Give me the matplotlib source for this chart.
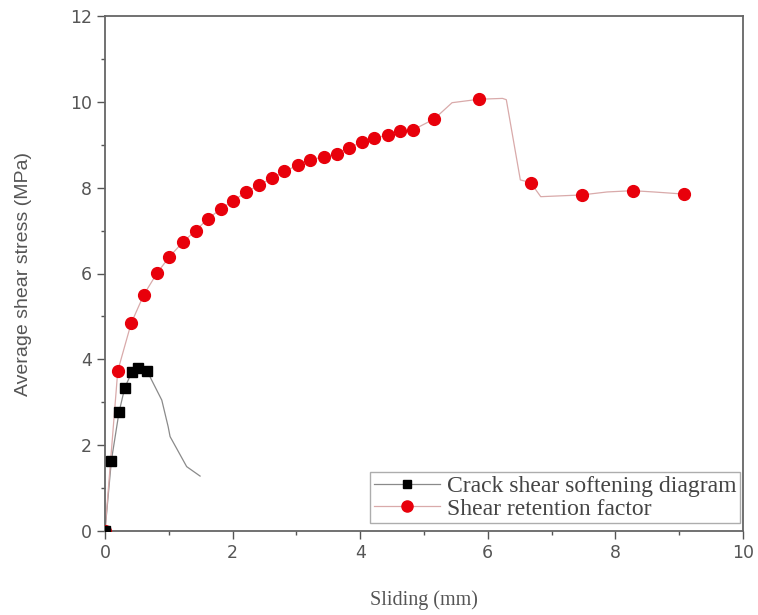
import numpy as np
import matplotlib.pyplot as plt
from matplotlib.ticker import MultipleLocator

# crack shear softening diagram (black squares + thin line)
crack_x = [0.0, 0.10, 0.22, 0.31, 0.42, 0.52, 0.66]
crack_y = [0.0, 1.64, 2.77, 3.34, 3.70, 3.79, 3.73]
crack_line_x = [0.0, 0.10, 0.22, 0.31, 0.42, 0.52, 0.66, 0.73, 0.89, 0.99, 1.02, 1.28, 1.49]
crack_line_y = [0.0, 1.64, 2.77, 3.34, 3.70, 3.79, 3.73, 3.52, 3.05, 2.43, 2.20, 1.50, 1.28]

# shear retention factor (red circles)
ret_x = [0.0, 0.20, 0.41, 0.61, 0.82, 1.01, 1.22, 1.42, 1.61, 1.82, 2.01, 2.21, 2.42,
         2.62, 2.81, 3.02, 3.22, 3.43, 3.63, 3.82, 4.03, 4.22, 4.43, 4.63, 4.82, 5.16,
         5.86, 6.67, 7.47, 8.27, 9.08]
ret_y = [0.0, 3.73, 4.84, 5.51, 6.02, 6.39, 6.73, 7.00, 7.27, 7.51, 7.70, 7.89, 8.07,
         8.22, 8.38, 8.52, 8.65, 8.72, 8.79, 8.93, 9.06, 9.15, 9.23, 9.32, 9.34, 9.60,
         10.06, 8.12, 7.83, 7.93, 7.85]
# extra line vertices between markers
ret_extra_x = [5.44, 6.23, 6.29, 6.51, 6.83, 7.87, 8.60]
ret_extra_y = [9.98, 10.08, 10.05, 8.18, 7.79, 7.90, 7.90]

line_x = np.array(ret_x + ret_extra_x)
line_y = np.array(ret_y + ret_extra_y)
order = np.argsort(line_x)
line_x, line_y = line_x[order], line_y[order]

fig = plt.figure(figsize=(7.58, 6.15), dpi=100)
ax = fig.add_axes([105/758, 1 - 531/615, (743 - 105)/758, (531 - 16)/615])

ax.plot(crack_line_x, crack_line_y, color='#8a8a8a', lw=0.9, zorder=2)
ax.plot(line_x, line_y, color='#d9aaaa', lw=0.9, zorder=2)
ax.plot(crack_x, crack_y, 's', color='black', ms=7, zorder=4)
ax.plot(ret_x, ret_y, 'o', color='#e8000b', ms=8.5, zorder=3)

# legend proxies
h1, = ax.plot([], [], '-s', color='#8a8a8a', ms=6, lw=0.9, mfc='black', mec='black')
h2, = ax.plot([], [], '-o', color='#d9aaaa', ms=8, lw=0.9, mfc='#e8000b', mec='#e8000b')
leg = ax.legend([h1, h2], ['Crack shear softening diagram', 'Shear retention factor'],
                loc='lower right', bbox_to_anchor=(0.995, 0.015), frameon=True, fancybox=False,
                prop={'family': 'Liberation Serif', 'size': 17}, handlelength=2.8,
                borderpad=0.15, labelspacing=0.05, handletextpad=0.3, borderaxespad=0.0)
leg.get_frame().set_edgecolor('#999999')
leg.get_frame().set_linewidth(1.0)
for t in leg.get_texts():
    t.set_color('#444444')

ax.set_xlim(0, 10)
ax.set_ylim(0, 12)
ax.xaxis.set_major_locator(MultipleLocator(2))
ax.xaxis.set_minor_locator(MultipleLocator(1))
ax.yaxis.set_major_locator(MultipleLocator(2))
ax.yaxis.set_minor_locator(MultipleLocator(1))
ax.tick_params(which='major', direction='out', length=6, width=1.0, colors='#555555',
               labelsize=12.5, labelcolor='#555555')
ax.tick_params(which='minor', direction='out', length=3, width=1.0, colors='#555555')
ax.tick_params(top=False, right=False)
for s in ax.spines.values():
    s.set_color('#666666')
    s.set_linewidth(1.3)

ax.set_xlabel('Sliding (mm)', family='Liberation Serif', fontsize=14.5, color='#555555', labelpad=20)
ax.set_ylabel('Average shear stress (MPa)', family='Liberation Sans', fontsize=14,
              color='#555555', labelpad=27)

fig.savefig('out.png', dpi=100)
